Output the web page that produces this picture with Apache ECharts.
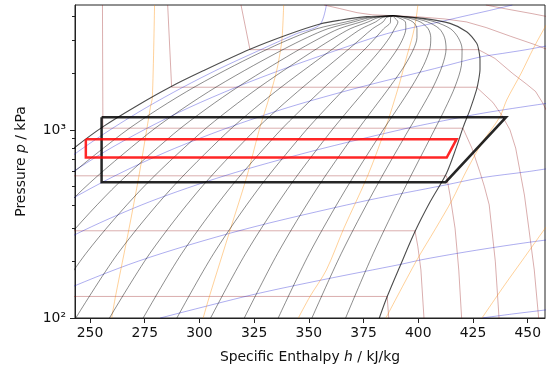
<!DOCTYPE html>
<html>
<head>
<meta charset="utf-8">
<script src="https://cdn.jsdelivr.net/npm/echarts@6/dist/echarts.min.js"></script>
<style>
  html, body { margin: 0; padding: 0; background: #fff; }
  #chart { width: 546px; height: 370px; }
</style>
</head>
<body>
<div id="chart"></div>
<script>
// axis ticks
const X_TICKS = [250, 275, 300, 325, 350, 375, 400, 425, 450];
const Y_TICKS = [100, 1000];
const Y_TICK_LABELS = ['10\u00b2', '10\u00b3'];
const Y_MINOR = [200, 300, 400, 500, 600, 700, 800, 900, 2000, 3000, 4000];

// saturation dome [h kJ/kg, p kPa]
const SAT_LIQ = [[241.7, 770], [243.1, 807], [256.0, 1041], [271.3, 1341], [286.5, 1686], [301.7, 2060],
  [323.1, 2683], [339.9, 3196], [355.1, 3656], [364.2, 3830], [376.4, 4000], [388.6, 4046]];
const SAT_VAP = [[388.6, 4046], [402.3, 3917], [414.5, 3684], [422.1, 3326], [426.7, 2886], [427.6, 2661],
  [428.2, 2355], [428.2, 2100], [427.6, 1850], [426.6, 1631], [423.6, 1277], [420.6, 1041], [417.5, 815],
  [412.9, 589], [405.3, 412], [398.5, 288], [391.6, 188], [385.8, 130], [382.2, 100]];

// quality lines, h at each pressure level
const Q_LEVELS = [100, 220, 480, 950, 1300, 1700, 2200, 2700, 3100, 3450, 3750, 3950, 4046];
const QUALITY_H = [
  [181.8, 204.4, 233.2, 264.4, 281.6, 298.1, 316.0, 331.5, 343.1, 353.6, 367.0, 375.9, 388.6],
  [197.2, 219.0, 246.5, 276.3, 292.5, 308.0, 324.7, 338.9, 349.3, 358.7, 370.4, 377.8, 388.6],
  [212.6, 233.6, 259.9, 288.1, 303.4, 317.9, 333.3, 346.2, 355.6, 363.8, 373.8, 379.7, 388.6],
  [228.1, 248.1, 273.2, 299.9, 314.3, 327.8, 341.9, 353.6, 361.9, 368.9, 377.1, 381.6, 388.6],
  [243.5, 262.7, 286.6, 311.8, 325.2, 337.7, 350.6, 361.0, 368.1, 374.0, 380.5, 383.5, 388.6],
  [258.9, 277.3, 299.9, 323.6, 336.1, 347.6, 359.2, 368.4, 374.4, 379.1, 383.9, 385.4, 388.6],
  [274.3, 291.9, 313.3, 335.4, 347.0, 357.5, 367.9, 375.8, 380.6, 384.2, 387.3, 387.3, 388.6],
  [289.7, 306.5, 326.6, 347.2, 357.8, 367.3, 376.5, 383.1, 386.9, 389.2, 390.7, 389.1, 388.6],
  [305.1, 321.1, 340.0, 359.1, 368.7, 377.2, 385.1, 390.5, 393.2, 394.3, 394.1, 391.0, 388.6],
  [320.5, 335.7, 353.3, 370.9, 379.6, 387.1, 393.8, 397.9, 399.4, 399.4, 397.5, 392.9, 388.6],
  [336.0, 350.2, 366.7, 382.7, 390.5, 397.0, 402.4, 405.3, 405.7, 404.5, 400.9, 394.8, 388.6],
  [351.4, 364.8, 380.0, 394.5, 401.4, 406.9, 411.0, 412.7, 412.0, 409.6, 404.2, 396.7, 388.6],
  [366.8, 379.4, 393.4, 406.4, 412.3, 416.8, 419.7, 420.0, 418.2, 414.7, 407.6, 398.6, 388.6]
];

// isotherms
const T_M20 = [[173.6, 130.2], [385.8, 130.2], [386.1, 116], [386.5, 100]];
const T_0 = [[200.0, 290.8], [398.5, 290.8], [399.8, 240], [401.2, 180], [402.6, 100]];
const T_20 = [[227.5, 570], [412.9, 570], [414.5, 450], [416.8, 300], [418.5, 180], [419.8, 100]];
const T_40 = [[255.7, 4613], [255.9, 1021], [420.4, 1021], [424.5, 800], [428.1, 600], [430.2, 500],
  [432.4, 400], [435.2, 200], [436.9, 100]];
const T_60 = [[285.5, 4613], [287.3, 1686], [426.6, 1686], [434.1, 1400], [438.1, 1200], [441.9, 1000],
  [444.5, 800], [446.5, 600], [448.5, 450], [450.5, 300], [453.0, 180], [455.0, 100]];
const T_80 = [[319.0, 4613], [323.1, 2670], [427.5, 2670], [435.0, 2400], [443.0, 2000], [449.5, 1750],
  [453.6, 1600], [456.7, 1400], [459.6, 1200]];
const T_100 = [[357.0, 4613], [364.0, 4420], [372.0, 4200], [379.0, 4090], [388.6, 4046], [400.0, 3990],
  [412.0, 3890], [422.0, 3750], [431.0, 3500], [442.0, 3150], [452.5, 2860], [460.0, 2650]];
const T_120 = [[430.9, 4613], [440.0, 4400], [452.0, 4150], [460.0, 3980]];

// isentropes
const S_A = [[259.9, 100], [261.8, 133], [267.7, 293], [272.4, 572], [276.0, 1017], [277.6, 1318],
  [278.5, 1495], [279.5, 4613]];
const S_B = [[301.7, 100], [304.8, 133], [314.0, 293], [321.8, 572], [327.5, 1017], [330.5, 1318],
  [333.3, 1682], [335.5, 2117], [337.0, 2634], [337.8, 3100], [338.5, 4613]];
const S_C = [[345.2, 100], [350.5, 130], [358.0, 180], [366.0, 300], [377.0, 575], [385.0, 1021],
  [391.0, 1700], [394.5, 2400], [397.5, 3200], [399.0, 3900], [399.8, 4613]];
const S_D = [[385.2, 100], [399.0, 200], [408.0, 300], [415.5, 425], [421.5, 590], [429.0, 850],
  [437.3, 1174], [440.4, 1442], [447.0, 2000], [452.5, 2700], [458.4, 3600], [462.0, 4200]];
const S_E = [[429.1, 100], [439.5, 150], [448.5, 210], [458.0, 300], [462.0, 345]];

// isochores
const V_0 = [[429.1, 100], [443.5, 105.2], [458.0, 110.3], [462.0, 111.8]];
const V_1 = [[282.1, 100], [324.0, 132.7], [356.7, 160], [392.1, 193], [401.5, 204], [418.2, 221],
  [435.0, 237.6], [452.0, 254], [461.0, 262]];
const V_2 = [[212.4, 100], [233.3, 132.7], [272.1, 200.6], [319.0, 292.8], [373.7, 414.6], [407.3, 496],
  [411.9, 508], [429.0, 557], [450.1, 600], [463.5, 634]];
const V_3 = [[184.7, 100], [197.4, 132.7], [220.7, 200.6], [247.3, 292.8], [277.2, 414.6], [311.8, 571.7],
  [351.4, 770.2], [394.3, 1016.6], [421.6, 1180], [430.0, 1230], [443.0, 1300], [458.0, 1380], [462.0, 1400]];
const V_4 = [[173.9, 100], [200.5, 200.6], [219.2, 292.8], [239.4, 414.6], [261.6, 571.7], [285.6, 770.2],
  [312.0, 1016.6], [340.7, 1317.9], [373.0, 1681.8], [407.4, 2116.8], [428.2, 2440], [438.5, 2550],
  [448.8, 2663], [459.0, 2800], [463.0, 2850]];
const V_5 = [[222.8, 414.6], [239.6, 571.7], [257.1, 770.2], [275.8, 1016.6], [295.5, 1317.9], [316.6, 1681.8],
  [338.9, 2116.8], [362.0, 2633.6], [385.5, 3244.2], [411.0, 3780], [420.0, 4000], [432.0, 4300], [443.0, 4613]];
const V_6 = [[230.1, 571.7], [244.8, 770.2], [260.1, 1016.6], [275.9, 1317.9], [292.3, 1681.8], [309.2, 2116.8],
  [326.9, 2633.6], [344.3, 3244.2], [355.0, 3620], [358.0, 4613]];

// cycles
const CYCLE_BLACK = [[255.3, 1168], [440.1, 1168], [412.5, 527.6], [255.3, 527.6], [255.3, 1168]];
const CYCLE_RED = [[248.1, 892.6], [417.5, 892.6], [413.0, 712.5], [248.1, 712.5], [248.1, 892.6]];

const FONT = 'DejaVu Sans';

function line(data, color, width, smooth) {
  return {
    type: 'line',
    data: data,
    symbol: 'none',
    showSymbol: false,
    smooth: smooth || false,
    clip: true,
    silent: true,
    animation: false,
    lineStyle: { color: color, width: width, join: 'miter' }
  };
}

const series = [];
[T_M20, T_0, T_20, T_40, T_60, T_80, T_100, T_120].forEach(d =>
  series.push(line(d, 'rgba(139,0,0,0.32)', 1)));
[V_0, V_1, V_2, V_3, V_4, V_5, V_6].forEach(d =>
  series.push(line(d, 'rgba(0,0,205,0.32)', 1, 0.3)));
[S_A, S_B, S_C, S_D, S_E].forEach(d =>
  series.push(line(d, 'rgba(255,140,0,0.4)', 1, 0.3)));
QUALITY_H.forEach(row =>
  series.push(line(row.map((h, i) => [h, Q_LEVELS[i]]), 'rgba(0,0,0,0.45)', 1, 0.3)));
series.push(line(SAT_LIQ, 'rgba(0,0,0,0.7)', 1.1, 0.3));
series.push(line(SAT_VAP, 'rgba(0,0,0,0.7)', 1.1, 0.3));
series.push(line(CYCLE_BLACK, 'rgba(0,0,0,0.85)', 2.5));
series.push(line(CYCLE_RED, 'rgba(255,0,0,0.85)', 2.5));

const chart = echarts.init(document.getElementById('chart'));

const option = {
  animation: false,
  backgroundColor: '#fff',
  grid: {
    left: 75,
    right: 1,
    top: 5,
    bottom: 52,
    show: true,
    borderColor: '#222',
    borderWidth: 1,
    backgroundColor: 'transparent'
  },
  xAxis: {
    type: 'value',
    min: 243.15,
    max: 457.9,
    name: 'Specific Enthalpy {i|h} / kJ/kg',
    nameLocation: 'middle',
    nameGap: 32,
    nameTextStyle: {
      fontFamily: FONT, fontSize: 13.9, color: '#111',
      rich: { i: { fontFamily: FONT, fontSize: 13.9, fontStyle: 'italic', color: '#111' } }
    },
    axisLine: { show: true, onZero: false, lineStyle: { color: '#222', width: 1 } },
    axisTick: { show: true, inside: false, length: 5, customValues: X_TICKS, lineStyle: { color: '#222', width: 1 } },
    axisLabel: { customValues: X_TICKS, fontFamily: FONT, fontSize: 13.9, color: '#111', margin: 8 },
    splitLine: { show: false }
  },
  yAxis: [
    {
      type: 'log',
      logBase: 10,
      min: 100,
      max: 4613,
      name: 'Pressure {i|p} / kPa',
      nameLocation: 'middle',
      nameGap: 47,
      nameRotate: 90,
      nameTextStyle: {
        fontFamily: FONT, fontSize: 13.9, color: '#111',
        rich: { i: { fontFamily: FONT, fontSize: 13.9, fontStyle: 'italic', color: '#111' } }
      },
      axisLine: { show: true, onZero: false, lineStyle: { color: '#222', width: 1 } },
      axisTick: { show: true, inside: false, length: 5, customValues: Y_TICKS, lineStyle: { color: '#222', width: 1 } },
      axisLabel: {
        customValues: Y_TICKS,
        fontFamily: FONT, fontSize: 13.9, color: '#111', margin: 9,
        formatter: function (v) {
          const i = Y_TICKS.findIndex(t => Math.abs(t - v) / t < 1e-6);
          return i >= 0 ? Y_TICK_LABELS[i] : '';
        }
      },
      splitLine: { show: false }
    },
    {
      type: 'log',
      logBase: 10,
      min: 100,
      max: 4613,
      position: 'left',
      axisLine: { show: false },
      axisTick: { show: true, inside: false, length: 3, customValues: Y_MINOR, lineStyle: { color: '#222', width: 1 } },
      axisLabel: { show: false },
      splitLine: { show: false }
    }
  ],
  series: series
};

chart.setOption(option);
</script>
</body>
</html>
